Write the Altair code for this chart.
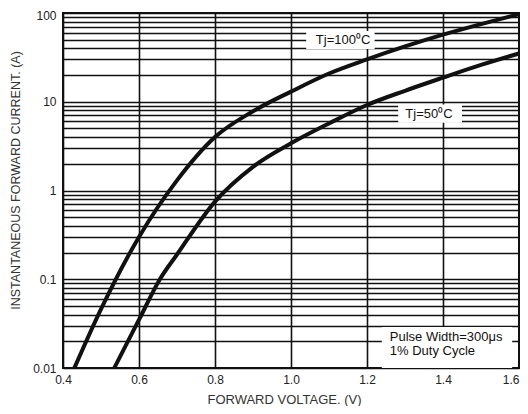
import altair as alt
import pandas as pd

# Curve data (forward voltage V, instantaneous forward current A)
v100 = [0.43, 0.5, 0.6, 0.7, 0.8, 0.9, 1.0, 1.1, 1.2, 1.3, 1.4, 1.5, 1.6]
i100 = [0.01, 0.046, 0.3, 1.3, 4.0, 7.8, 13, 20.8, 30, 42, 57, 75, 97]
v50 = [0.535, 0.6, 0.655, 0.7, 0.8, 0.9, 1.0, 1.1, 1.2, 1.3, 1.4, 1.5, 1.6]
i50 = [0.01, 0.035, 0.1, 0.19, 0.75, 1.85, 3.4, 5.7, 9.2, 13.3, 18.7, 26, 35]

x_ticks = [0.4, 0.6, 0.8, 1.0, 1.2, 1.4, 1.6]
y_decades = [0.01, 0.1, 1, 10, 100]
y_grid = [m * d for d in [0.01, 0.1, 1, 10] for m in range(1, 10)] + [100]

# Annotations
label_text = ["Tj=100⁰C", "Tj=50⁰C"]
label_x = [1.137, 1.363]
label_y = [50, 7.3]
box_x = [1.04, 1.282, 1.239]
box_x2 = [1.22, 1.45, 1.582]
box_y = [62.8, 9.3, 0.029]
box_y2 = [39.3, 5.8, 0.01]
note_lines = ["Pulse Width=300μs", "1% Duty Cycle"]
note_x = [1.26, 1.26]
note_y = [0.0223, 0.0155]

curves = pd.DataFrame(
    {"v": v100 + v50, "i": i100 + i50,
     "s": ["100"] * len(v100) + ["50"] * len(v50)}
)
boxes = pd.DataFrame({"x": box_x, "x2": box_x2, "y": box_y, "y2": box_y2})
labels = pd.DataFrame({"t": label_text, "x": label_x, "y": label_y})
notes = pd.DataFrame({"t": note_lines, "x": note_x, "y": note_y})

xs = alt.Scale(domain=[0.4, 1.6], nice=False, zero=False)
ys = alt.Scale(type="log", domain=[0.01, 100], nice=False)

decade_expr = ("(datum.value==0.01||datum.value==0.1||datum.value==1||"
               "datum.value==10||datum.value==100) ? format(datum.value,'~g') : ''")

xax = alt.Axis(values=x_ticks, format=".1f", title="FORWARD VOLTAGE. (V)",
               grid=True, ticks=False, domain=False, labelPadding=6,
               labelFlush=False,
               labelAlign={"condition": {"test": "datum.value >= 1.59", "value": "right"},
                           "value": "center"},
               titleX=221, titleY=35, titleBaseline="alphabetic",
               titleAlign="center", titleFontSize=13)
yax = alt.Axis(values=y_grid, labelExpr=decade_expr,
               title="INSTANTANEOUS FORWARD CURRENT. (A)", grid=True,
               ticks=False, domain=False, labelPadding=7,
               labelFlush=False,
               labelOffset={"condition": {"test": "datum.value == 100", "value": 2},
                            "value": 0},
               titleX=-43.5, titleY=167, titleAngle=270,
               titleBaseline="alphabetic", titleAlign="center",
               titleFontSize=12.5)

box_layer = alt.Chart(boxes).mark_rect(color="white", opacity=1).encode(
    x=alt.X("x:Q", scale=xs, axis=xax),
    x2="x2:Q",
    y=alt.Y("y:Q", scale=ys, axis=yax),
    y2="y2:Q",
)

line_layer = alt.Chart(curves).mark_line(
    color="#111111", strokeWidth=4, interpolate="monotone"
).encode(
    x=alt.X("v:Q", scale=xs),
    y=alt.Y("i:Q", scale=ys),
    detail="s:N",
)

label_layer = alt.Chart(labels).mark_text(
    font="Liberation Sans", fontSize=13, color="#111111", align="center",
    baseline="middle"
).encode(x=alt.X("x:Q", scale=xs), y=alt.Y("y:Q", scale=ys), text="t:N")

note_layer = alt.Chart(notes).mark_text(
    font="Liberation Sans", fontSize=13, color="#111111", align="left",
    baseline="middle"
).encode(x=alt.X("x:Q", scale=xs), y=alt.Y("y:Q", scale=ys), text="t:N")

chart = alt.layer(box_layer, line_layer, label_layer, note_layer).properties(
    width=456, height=355,
    autosize=alt.AutoSizeParams(type="none"),
    padding={"left": 55, "top": 5, "right": 1, "bottom": 38},
).configure_view(
    stroke="#111111", strokeWidth=2
).configure_axis(
    gridColor="#111111", gridWidth=1.6, gridOpacity=1,
    labelFont="Liberation Sans", labelFontSize=12, labelColor="#222222",
    titleFont="Liberation Sans", titleFontWeight="normal",
    titleColor="#333333",
)

chart.save("out.html", embed_options={"renderer": "svg", "actions": False})
